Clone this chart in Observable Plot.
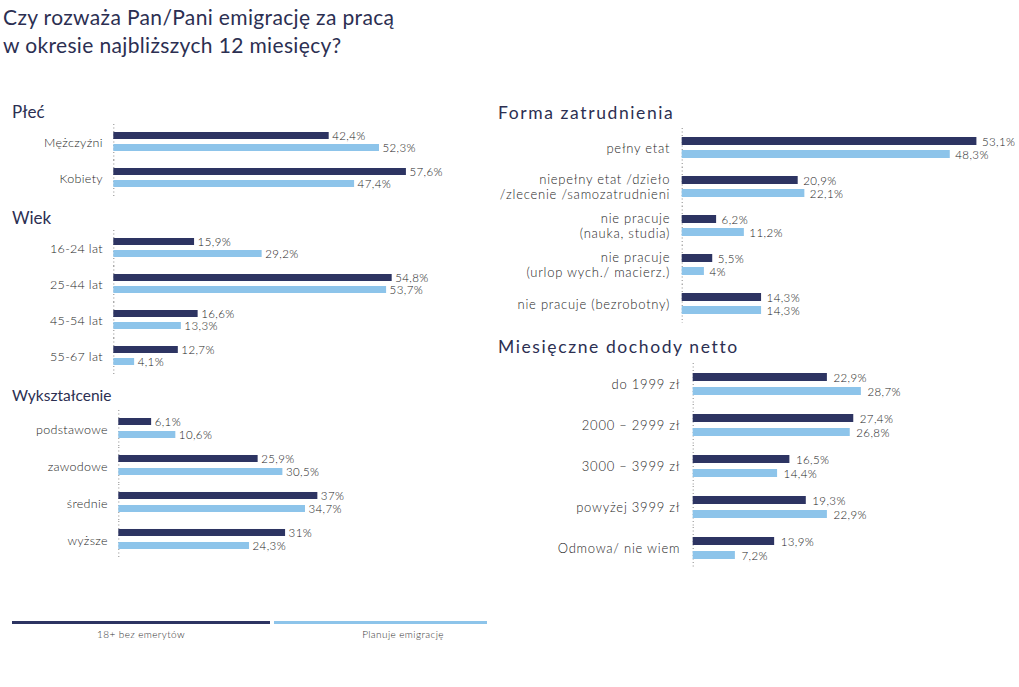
<!DOCTYPE html>
<html lang="pl">
<head>
<meta charset="utf-8">
<script src="https://cdn.jsdelivr.net/npm/d3@7"></script>
<script src="https://cdn.jsdelivr.net/npm/@observablehq/plot@0.6"></script>
<style>
  html, body { margin: 0; padding: 0; background: #fff; }
  #chart { position: relative; width: 1019px; height: 687px; overflow: hidden; font-family: Lato, "Open Sans", sans-serif; }
  .title { position: absolute; left: 3px; top: 3px; font-size: 21px; line-height: 28px; color: #2c2f52; letter-spacing: 0.35px; }
  .ptitle { position: absolute; font-size: 17px; line-height: 20px; color: #2c2f52; }
  .ptitle.wide { font-size: 17.5px; letter-spacing: 1.6px; }
  .panel { position: absolute; }
  .panel svg { overflow: visible; }
  .lg-line { position: absolute; height: 3px; }
  .lg-text { position: absolute; font-size: 10px; color: #333; transform: translateX(-50%); white-space: nowrap; letter-spacing: 0.4px; font-weight: 300; }
</style>
</head>
<body>
<div id="chart"></div>
<script>
// Series
const series = ["18+ bez emerytów", "Planuje emigrację"];
const colors = ["#2d3462", "#8dc4ea"];

// Płeć
const plecCats = ["Mężczyźni", "Kobiety"];
const plecAll = [42.4, 57.6];
const plecPlan = [52.3, 47.4];

// Wiek
const wiekCats = ["16-24 lat", "25-44 lat", "45-54 lat", "55-67 lat"];
const wiekAll = [15.9, 54.8, 16.6, 12.7];
const wiekPlan = [29.2, 53.7, 13.3, 4.1];

// Wykształcenie
const wyksztCats = ["podstawowe", "zawodowe", "średnie", "wyższe"];
const wyksztAll = [6.1, 25.9, 37, 31];
const wyksztPlan = [10.6, 30.5, 34.7, 24.3];

// Forma zatrudnienia
const formaCats = [
  "pełny etat",
  "niepełny etat /dzieło\n/zlecenie /samozatrudnieni",
  "nie pracuje\n(nauka, studia)",
  "nie pracuje\n(urlop wych./ macierz.)",
  "nie pracuje (bezrobotny)"
];
const formaAll = [53.1, 20.9, 6.2, 5.5, 14.3];
const formaPlan = [48.3, 22.1, 11.2, 4, 14.3];

// Miesięczne dochody netto
const dochodCats = ["do 1999 zł", "2000 – 2999 zł", "3000 – 3999 zł", "powyżej 3999 zł", "Odmowa/ nie wiem"];
const dochodAll = [22.9, 27.4, 16.5, 19.3, 13.9];
const dochodPlan = [28.7, 26.8, 14.4, 22.9, 7.2];

const fmt = v => String(v).replace(".", ",") + "%";
const root = document.getElementById("chart");

function addDiv(cls, text, css) {
  const d = document.createElement("div");
  d.className = cls;
  if (text != null) d.textContent = text;
  Object.assign(d.style, css);
  root.appendChild(d);
  return d;
}

// One grouped horizontal bar panel: categories are facets, series are bands within a facet
function panel({cats, all, plan, left, top, width, height, marginLeft, pxPerUnit, xMax,
                padInner, padOuter, labelGap, valueGap, labelSize, labelSpacing}) {
  const rows = cats.flatMap((c, i) => [
    {cat: c, series: series[0], value: all[i]},
    {cat: c, series: series[1], value: plan[i]}
  ]);
  const marginRight = width - marginLeft - xMax * pxPerUnit;
  const chart = Plot.plot({
    width, height, marginLeft, marginRight, marginTop: 0, marginBottom: 0,
    x: {domain: [0, xMax], axis: null},
    y: {domain: series, axis: null, paddingInner: padInner, paddingOuter: padOuter},
    fy: {domain: cats, axis: null, padding: 0},
    color: {domain: series, range: colors},
    style: {fontFamily: "Lato, 'Open Sans', sans-serif", fontSize: "12px", color: "#222", background: "transparent"},
    marks: [
      Plot.ruleX([0], {stroke: "#888", strokeWidth: 1, strokeDasharray: "1,2.5"}),
      Plot.barX(rows, {x: "value", y: "series", fy: "cat", fill: "series"}),
      Plot.text(rows, {x: "value", y: "series", fy: "cat", text: d => fmt(d.value),
        textAnchor: "start", dx: valueGap, dy: 0.5, fill: "#1a1a1a", fontSize: 11.5, fontWeight: 300,
        className: "value-label"}),
      Plot.text(cats, {fy: d => d, text: d => d, frameAnchor: "left", textAnchor: "end",
        dx: -labelGap, lineHeight: 1.15, fill: "#262626", fontSize: labelSize, fontWeight: 300,
        className: "cat-label"})
    ]
  });
  chart.querySelectorAll(".value-label text").forEach(el => el.style.letterSpacing = "0.4px");
  chart.querySelectorAll(".cat-label text").forEach(el => el.style.letterSpacing = labelSpacing + "px");
  const wrap = addDiv("panel", null, {left: left + "px", top: top + "px"});
  wrap.appendChild(chart);
}

// Title
const t = addDiv("title", null, {});
t.innerHTML = "Czy rozważa Pan/Pani emigrację za pracą<br>w okresie najbliższych 12 miesięcy?";

// Panel titles
addDiv("ptitle", "Płeć", {left: "12px", top: "102px"});
addDiv("ptitle", "Wiek", {left: "12px", top: "208px"});
addDiv("ptitle", "Wykształcenie", {left: "12px", top: "385px", fontSize: "15.5px"});
addDiv("ptitle wide", "Forma zatrudnienia", {left: "498px", top: "103px"});
addDiv("ptitle wide", "Miesięczne dochody netto", {left: "498px", top: "337px"});

panel({cats: plecCats, all: plecAll, plan: plecPlan, left: 0, top: 123.8, width: 480, height: 72,
  marginLeft: 113.3, pxPerUnit: 5.08, xMax: 60, padInner: 0.41, padOuter: 0.62, labelGap: 11, valueGap: 3,
  labelSize: 12.5, labelSpacing: 0.3});
panel({cats: wiekCats, all: wiekAll, plan: wiekPlan, left: 0, top: 230.4, width: 480, height: 144,
  marginLeft: 113.3, pxPerUnit: 5.08, xMax: 60, padInner: 0.41, padOuter: 0.62, labelGap: 11, valueGap: 3,
  labelSize: 12.5, labelSpacing: 0.3});
panel({cats: wyksztCats, all: wyksztAll, plan: wyksztPlan, left: 0, top: 408.4, width: 481, height: 151.2,
  marginLeft: 118.3, pxPerUnit: 5.38, xMax: 60, padInner: 0.425, padOuter: 0.62, labelGap: 11, valueGap: 3,
  labelSize: 12.5, labelSpacing: 0.3});
panel({cats: formaCats, all: formaAll, plan: formaPlan, left: 490, top: 126.6, width: 529, height: 196.25,
  marginLeft: 191.7, pxPerUnit: 5.55, xMax: 59, padInner: 0.42, padOuter: 0.685, labelGap: 12, valueGap: 5,
  labelSize: 13, labelSpacing: 0.75});
panel({cats: dochodCats, all: dochodAll, plan: dochodPlan, left: 490, top: 362.4, width: 529, height: 206.25,
  marginLeft: 202.7, pxPerUnit: 5.86, xMax: 50, padInner: 0.456, padOuter: 0.631, labelGap: 13, valueGap: 6,
  labelSize: 13, labelSpacing: 0.75});

// Legend
addDiv("lg-line", null, {left: "12px", top: "621px", width: "258px", background: colors[0]});
addDiv("lg-line", null, {left: "274px", top: "621px", width: "213px", background: colors[1]});
addDiv("lg-text", series[0], {left: "141px", top: "628px"});
addDiv("lg-text", series[1], {left: "403px", top: "628px"});
</script>
</body>
</html>
